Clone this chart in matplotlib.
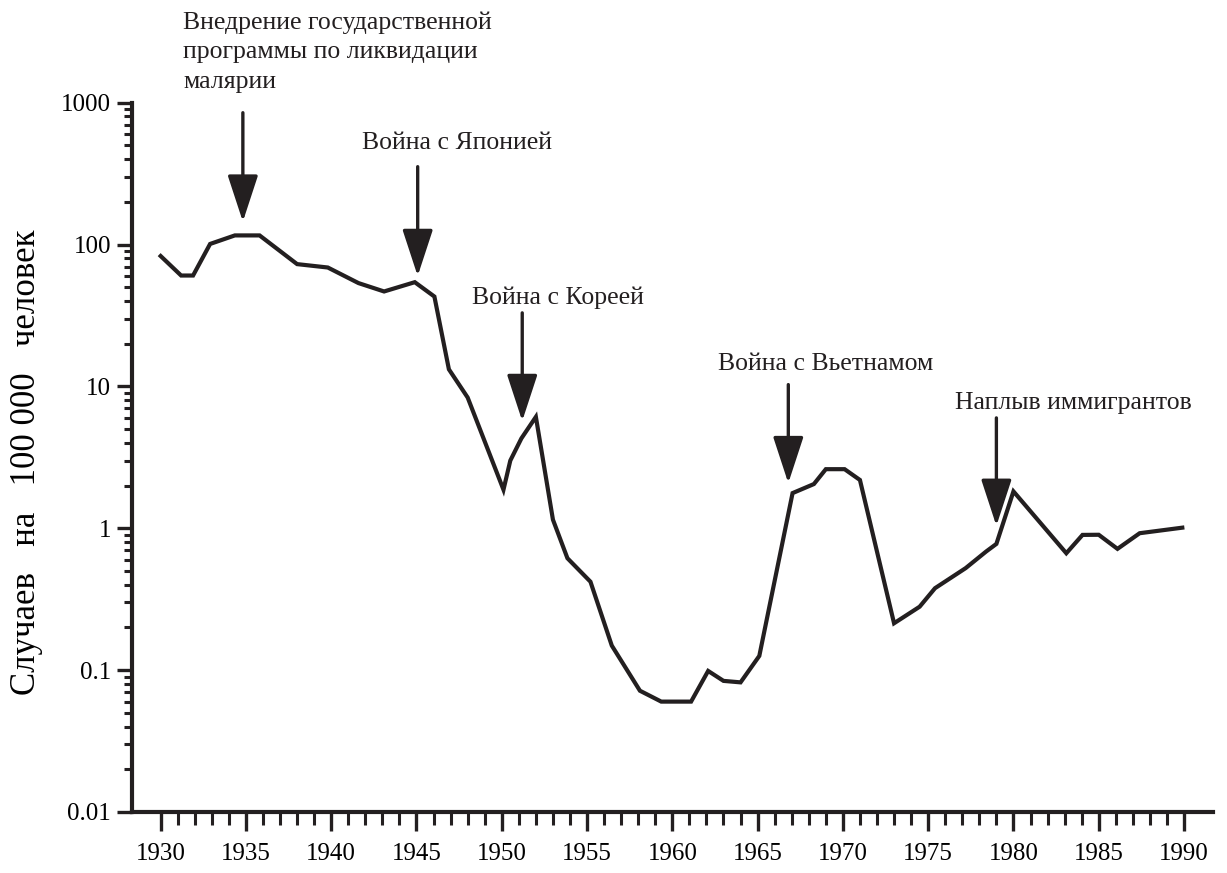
import matplotlib
matplotlib.use("Agg")
import matplotlib.pyplot as plt
from matplotlib.ticker import FixedLocator, LogLocator, NullFormatter, FuncFormatter

plt.rcParams['font.family'] = ['Liberation Serif', 'DejaVu Serif']

INK = '#231f20'

# cases per 100 000 people
years = [1930.0, 1931.2, 1931.9, 1932.9, 1934.35, 1935.8, 1938.0, 1939.8,
         1941.6, 1943.1, 1944.9, 1946.05, 1946.9, 1948.0, 1950.1, 1950.5,
         1951.15, 1952.0, 1953.0, 1953.85, 1955.2, 1956.45, 1958.1, 1959.35,
         1961.1, 1962.1, 1963.0, 1964.0, 1965.1, 1967.05, 1968.3, 1969.0,
         1970.1, 1971.0, 1973.0, 1974.5, 1975.4, 1977.2, 1978.4, 1979.0,
         1980.0, 1983.1, 1984.05, 1985.0, 1986.1, 1987.4, 1989.9]
cases = [83, 60.5, 60.5, 101, 116, 116, 72.8, 68.9,
         53.5, 46.7, 54.3, 43, 13.2, 8.35, 1.87, 3.0,
         4.3, 6.1, 1.15, 0.615, 0.42, 0.149, 0.0716, 0.060,
         0.060, 0.0987, 0.084, 0.082, 0.126, 1.77, 2.05, 2.61,
         2.61, 2.19, 0.214, 0.28, 0.378, 0.524, 0.686, 0.776,
         1.82, 0.667, 0.898, 0.90, 0.716, 0.923, 1.01]

y_ticks = [0.01, 0.1, 1, 10, 100, 1000]
y_tick_labels = ['0.01', '0.1', '1', '10', '100', '1000']
x_major = list(range(1930, 1991, 5))
x_minor = list(range(1930, 1991))

# events: label, arrow x (year), arrow tail value, arrow tip value
events = [
    ('Внедрение государственной\nпрограммы по ликвидации\nмалярии', 1934.82, 850, 145),
    ('Война с Японией', 1945.07, 354, 60),
    ('Война с Кореей', 1951.2, 33, 5.7),
    ('Война с Вьетнамом', 1966.8, 10.3, 2.08),
    ('Наплыв иммигрантов', 1979.0, 6.0, 1.04),
]
# text anchor (left, vertical centre) in figure pixels
text_pos = [(183, 52), (362, 143), (472, 298), (718, 364), (955, 403)]

W, H = 1227, 873
fig = plt.figure(figsize=(W / 100, H / 100), dpi=100)
ax_w = 1213 - 132
ax_h = 812 - 102.7
ax = fig.add_axes([132 / W, 1 - 812 / H, ax_w / W, ax_h / H])

ax.plot(years, cases, color=INK, lw=3, solid_joinstyle='miter')

ax.set_yscale('log')
ax.set_ylim(0.01, 1000)
ax.set_xlim(1928.32, 1991.7)

ax.yaxis.set_major_locator(FixedLocator(y_ticks))
ax.yaxis.set_major_formatter(FuncFormatter(lambda v, p: y_tick_labels[y_ticks.index(v)] if v in y_ticks else ''))
ax.yaxis.set_minor_locator(LogLocator(base=10, subs=range(2, 10)))
ax.yaxis.set_minor_formatter(NullFormatter())
ax.xaxis.set_major_locator(FixedLocator(x_major))
ax.xaxis.set_minor_locator(FixedLocator(x_minor))

for s in ['top', 'right']:
    ax.spines[s].set_visible(False)
for s in ['left', 'bottom']:
    ax.spines[s].set_linewidth(3)
    ax.spines[s].set_color(INK)

ax.tick_params(axis='y', which='major', length=11, width=2.4, color=INK, pad=4, labelsize=18)
ax.tick_params(axis='y', which='minor', length=6, width=2.2, color=INK)
ax.tick_params(axis='x', which='major', length=14, width=2.4, color=INK, pad=8, labelsize=18)
ax.tick_params(axis='x', which='minor', length=9, width=2.2, color=INK)

ax.set_ylabel('Случаев   на   100 000   человек', fontsize=25, va='center')
ax.yaxis.set_label_coords((27 - 132) / ax_w, (812 - 462) / ax_h)

for (label, x, tail, tip), (px, py) in zip(events, text_pos):
    ax.annotate('', xy=(x, tip), xytext=(x, tail),
                arrowprops=dict(arrowstyle='-|>,head_length=29,head_width=9.5',
                                mutation_scale=1, lw=2.4, color=INK,
                                shrinkA=0, shrinkB=0))
    fig.text(px / W, 1 - py / H, label, fontsize=18.5, ha='left', va='center',
             linespacing=1.45, color=INK)

fig.savefig('out.png', dpi=100)
